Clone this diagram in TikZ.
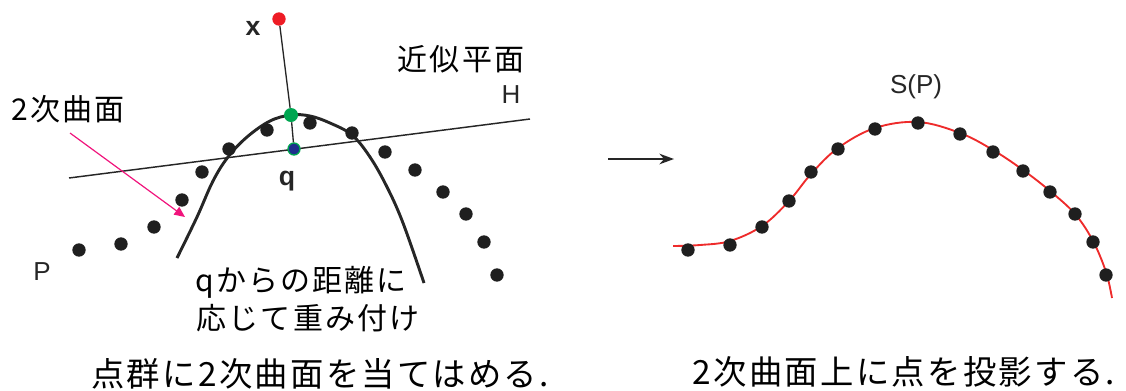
\documentclass[tikz,border=0pt]{standalone}
\usepackage{fontspec}
\setmainfont{Liberation Sans}
\newfontfamily\jp{Noto Sans CJK JP}[LetterSpace=7]
\newfontfamily\jpcap{Noto Sans CJK JP}[LetterSpace=7]
\usetikzlibrary{arrows.meta}
\definecolor{dotred}{HTML}{EE1C25}
\definecolor{dotgreen}{HTML}{00A651}
\definecolor{dotblue}{HTML}{1E2F8C}
\definecolor{pinkc}{HTML}{F0147C}
\definecolor{labc}{HTML}{262626}
\definecolor{curvered}{HTML}{EE2B2B}
\tikzset{
  pt/.style={circle, fill=black!88, inner sep=0pt, minimum size=10pt},
  jplabel/.style={font=\jp\fontsize{22.5pt}{26pt}\selectfont, inner sep=0pt},
  jpcaption/.style={font=\jpcap\fontsize{25pt}{28pt}\selectfont, inner sep=0pt},
  latlabel/.style={font=\fontsize{19.5pt}{21pt}\selectfont, text=labc, inner sep=0pt},
  thinline/.style={line width=1.1pt, black!85},
}
\begin{document}
\begin{tikzpicture}[x=0.75pt, y=-0.75pt]
\useasboundingbox (0,0) rectangle (1126,390);

% ---------- left figure ----------
% approximate plane H
\coordinate (h1) at (69,178);
\coordinate (h2) at (530,119);
\draw[thinline] (h1) -- (h2);

% quadric curve
\draw[line width=2.2pt, black!85]
  plot[smooth, tension=0.6] coordinates {(177,258) (197,217) (213,181) (228,157) (247,137) (270,121) (291,115) (310,116) (330,123) (352,135) (370,157) (387,187) (403,223) (424,283)};

% point cloud P
\foreach \n/\x/\y in {a/79/250, b/121/244, c/154/227, d/182/200, e/202/172, f/229/149, g/267/130, h/310/123, i/352/133, j/385/152, k/415/170, l/443/192, m/466/214, n/484/242, o/497/275}
  \node[pt] (p\n) at (\x,\y) {};

% x, projection
\node[circle, fill=dotred, inner sep=0pt, minimum size=10pt] (xpt) at (279,19) {};
\node[circle, fill=dotgreen, inner sep=0pt, minimum size=10.5pt] (gpt) at (291,115) {};
\node[circle, fill=dotblue, draw=dotgreen, line width=1pt, inner sep=0pt, minimum size=9pt] (qpt) at (294,149) {};
\draw[line width=1pt, black!85] (xpt) -- (gpt);
\draw[line width=1pt, black!85] (gpt) -- (qpt);

% labels
\node[latlabel, font=\bfseries\fontsize{20pt}{22pt}\selectfont] (xlab) at (253,28) {x};
\node[latlabel, font=\bfseries\fontsize{20pt}{22pt}\selectfont] (qlab) at (287,181) {q};
\node[latlabel] (hlab) at (511,95) {H};
\node[latlabel] (plab) at (42,272) {P};
\node[jplabel] (plane) at (461,59) {近似平面};
\node[jplabel] (quad) at (68,109) {2次曲面};
\node[jplabel] (w1) at (301,282) {qからの距離に};
\node[jplabel] (w2) at (308,318) {応じて重み付け};

% pink pointer
\coordinate (pk1) at (70,133);
\coordinate (pk2) at (185,217);
\draw[pinkc, line width=0.9pt, -{Triangle[length=8pt, width=7pt]}] (pk1) -- (pk2);

\node[jpcaption] (cap1) at (320,374) {点群に2次曲面を当てはめる.};

% ---------- arrow between ----------
\coordinate (a1) at (608,159);
\coordinate (a2) at (674,159);
\draw[line width=1.1pt, black!85, -{Stealth[length=11pt, width=8pt]}] (a1) -- (a2);

% ---------- right figure ----------
\draw[curvered, line width=1.4pt]
  plot[smooth, tension=0.6] coordinates {(673,246) (700,245) (730,241) (762,226) (789,201) (811,174) (838,148) (875,128) (918,122) (960,133) (993,150) (1023,170) (1050,191) (1075,214) (1093,241) (1106,272) (1112,298)};
\foreach \n/\x/\y in {a/688/250, b/730/245, c/762/227, d/789/201, e/811/172, f/838/149, g/875/129, h/918/123, i/960/134, j/993/152, k/1023/171, l/1050/192, m/1075/214, n/1093/242, o/1106/275}
  \node[pt] (s\n) at (\x,\y) {};
\node[latlabel] (splab) at (916,87) {S(P)};
\node[jpcaption] (cap2) at (904,372) {2次曲面上に点を投影する.};
\end{tikzpicture}
\end{document}
